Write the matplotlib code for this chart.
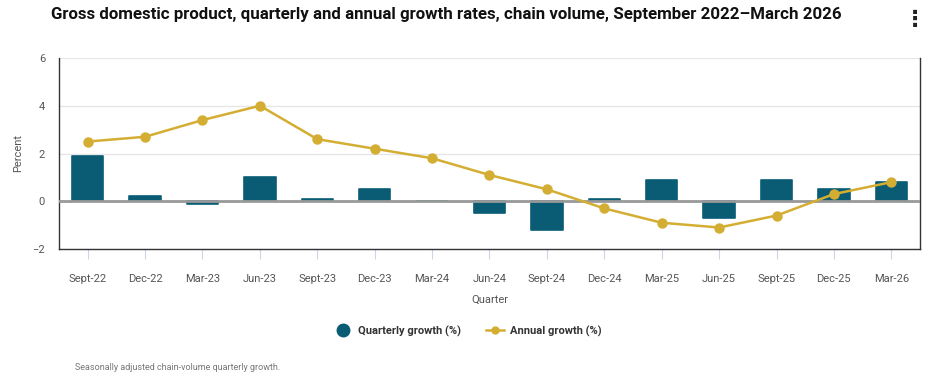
import matplotlib.pyplot as plt
from matplotlib.lines import Line2D

quarters = ["Sept-22", "Dec-22", "Mar-23", "Jun-23", "Sept-23", "Dec-23", "Mar-24",
            "Jun-24", "Sept-24", "Dec-24", "Mar-25", "Jun-25", "Sept-25", "Dec-25", "Mar-26"]
quarterly = [1.9, 0.2, -0.1, 1.0, 0.1, 0.5, 0.0, -0.5, -1.2, 0.1, 0.9, -0.7, 0.9, 0.5, 0.8]
annual = [2.5, 2.7, 3.4, 4.0, 2.6, 2.2, 1.8, 1.1, 0.5, -0.3, -0.9, -1.1, -0.6, 0.3, 0.8]

bar_color = "#0a5c75"
line_color = "#d4ae33"
text_color = "#555555"

plt.rcParams["font.family"] = ["Roboto", "DejaVu Sans"]

fig = plt.figure(figsize=(9.37, 3.84), dpi=100)
ax = fig.add_axes([59 / 937, 1 - 249 / 384, (920 - 59) / 937, (249 - 58) / 384])

x = list(range(len(quarters)))
ax.bar(x, quarterly, width=0.55, color=bar_color, edgecolor=bar_color,
       linewidth=1.2, joinstyle="round", zorder=2)
ax.axhline(0, color="#999999", linewidth=2, zorder=3)
ax.plot(x, annual, color=line_color, linewidth=1.8, marker="o", markersize=6.5, zorder=4)

ax.set_xlim(-0.5, 14.5)
ax.set_ylim(-2, 6)
ax.set_yticks([-2, 0, 2, 4, 6])
ax.set_xticks(x)
ax.set_xticklabels(quarters)
ax.grid(axis="y", color="#e6e6e6", linewidth=1, zorder=0)
ax.set_axisbelow(True)

for side in ["left", "bottom", "right"]:
    ax.spines[side].set_color("#333333")
    ax.spines[side].set_linewidth(1)
ax.spines["top"].set_visible(False)

ax.tick_params(axis="x", length=7, color="#ccd6eb", pad=11, labelsize=8, labelcolor=text_color)
ax.tick_params(axis="y", length=0, pad=10, labelsize=8, labelcolor=text_color)

ax.set_xlabel("Quarter", fontsize=8, color=text_color, labelpad=8)
ax.set_ylabel("Percent", fontsize=8, color=text_color, labelpad=7)

fig.text(446 / 937, 1 - 15 / 384, "Gross domestic product, quarterly and annual growth rates, chain volume, September 2022\u2013March 2026",
         ha="center", va="center", fontsize=12.2, fontweight="bold", color="#111111")
fig.text(915 / 937, 1 - 20 / 384, "\u22ee", ha="center", va="center", fontsize=16,
         fontweight="bold", color="#222222", family="DejaVu Sans")

handles = [
    Line2D([], [], linestyle="none", marker="o", markersize=9, color=bar_color),
    Line2D([], [], color=line_color, linewidth=1.8, marker="o", markersize=5),
]
fig.legend(handles, ["Quarterly growth (%)", "Annual growth (%)"],
           loc="center", bbox_to_anchor=(468 / 937, 1 - 331 / 384), ncol=2, frameon=False,
           prop={"weight": "bold", "size": 8}, labelcolor="#333333",
           handlelength=1.6, columnspacing=2.2, handletextpad=0.6)

fig.text(75 / 937, 1 - 367 / 384, "Seasonally adjusted chain-volume quarterly growth.",
         ha="left", va="center", fontsize=6.5, color="#777777")

fig.savefig("out.png", dpi=100)
